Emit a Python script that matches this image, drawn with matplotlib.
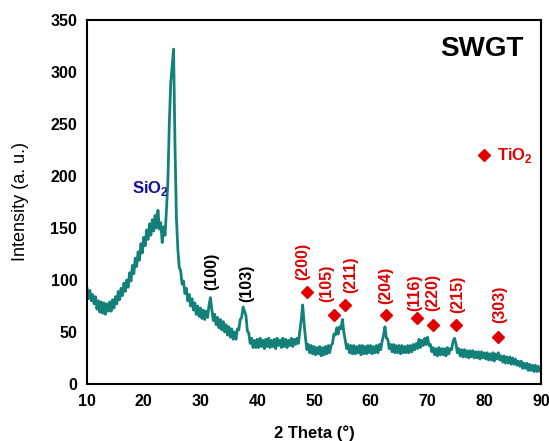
import numpy as np
import matplotlib
matplotlib.use("Agg")
import matplotlib.pyplot as plt

plt.rcParams["font.family"] = ["Liberation Sans", "DejaVu Sans"]
plt.rcParams["mathtext.fontset"] = "custom"
plt.rcParams["mathtext.rm"] = "Liberation Sans:bold"
plt.rcParams["mathtext.bf"] = "Liberation Sans:bold"

# XRD pattern, every 0.25 deg from 10 to 90
two_theta = np.arange(10, 90.01, 0.25)
intensity = [
    92, 82, 90, 80, 86, 77, 84, 72, 80, 69, 79, 68, 78, 67, 77, 70,
    79, 70, 81, 73, 84, 77, 89, 81, 92, 85, 97, 89, 100, 93, 107, 99,
    114, 106, 121, 113, 127, 119, 135, 126, 141, 133, 148, 139,
    154, 143, 158, 147, 162, 150, 167, 149, 155, 136, 151, 143,
    168, 195, 250, 290, 305, 322, 230, 160, 130, 112, 109, 96,
    99, 87, 92, 80, 86, 75, 82, 71, 78, 67, 75, 65, 73, 63, 71, 62,
    70, 64, 76, 83, 71, 61, 67, 57, 64, 54, 62, 52, 60, 50, 57, 47,
    55, 45, 53, 43, 50, 43, 53, 52, 62, 64, 74, 70, 66, 51, 49, 39,
    44, 35, 42, 35, 43, 35, 44, 36, 42, 34, 43, 36, 44, 35, 42, 36,
    43, 34, 44, 37, 42, 35, 44, 36, 43, 35, 42, 37, 44, 36, 43, 38,
    44, 39, 51, 62, 76, 58, 44, 33, 38, 30, 37, 29, 36, 28, 35, 29,
    36, 27, 35, 28, 36, 29, 37, 30, 37, 39, 48, 47, 54, 48, 55, 53,
    62, 50, 42, 34, 38, 30, 37, 29, 37, 29, 36, 30, 37, 28, 37, 29,
    36, 29, 37, 30, 37, 29, 36, 30, 37, 30, 38, 33, 41, 47, 55, 44,
    43, 34, 38, 31, 38, 30, 37, 30, 37, 29, 37, 30, 36, 30, 37, 30,
    37, 31, 38, 33, 39, 34, 43, 35, 42, 37, 44, 38, 45, 37, 38, 31,
    35, 28, 34, 27, 35, 28, 34, 28, 34, 27, 35, 29, 34, 33, 41, 44,
    39, 30, 34, 27, 33, 26, 33, 26, 32, 25, 32, 26, 32, 25, 31, 25,
    31, 24, 31, 25, 30, 24, 30, 23, 29, 23, 30, 22, 29, 24, 30, 23,
    27, 21, 27, 20, 26, 20, 26, 19, 25, 19, 24, 18, 22, 17, 22, 15,
    20, 15, 20, 13, 19, 13, 18, 12, 18, 12, 17, 12, 15,
]

# hkl labels, the first two are black, the rest red
hkl_text = ["(100)", "(103)", "(200)", "(105)", "(211)",
            "(204)", "(116)", "(220)", "(215)", "(303)"]
hkl_x = [32.0, 38.2, 48.1, 52.3, 56.5, 62.7, 67.8, 70.9, 75.3, 82.7]
hkl_y = [108, 97, 118, 97, 105, 95, 88, 88, 86, 77]
hkl_black = 2

# TiO2 diamonds
tio2_x = [48.7, 53.5, 55.5, 62.7, 68.2, 71.0, 75.0, 82.4]
tio2_y = [88, 66, 76, 66, 63, 57, 57, 45]

teal = "#14807a"
red = "#e00000"

fig = plt.figure(figsize=(5.49, 4.41), dpi=100)
ax = fig.add_axes([0.1585, 0.1293, 0.827, 0.8254])

ax.plot(two_theta, intensity, color=teal, linewidth=2.0)
ax.plot(tio2_x, tio2_y, linestyle="none", marker="D", markersize=6,
        color=red)

for i, t in enumerate(hkl_text):
    c = "black" if i < hkl_black else red
    ax.text(hkl_x[i], hkl_y[i], t, rotation=90, ha="center", va="center",
            fontsize=11.5, fontweight="bold", color=c)

ax.text(79.6, 322, "SWGT", ha="center", va="center", fontsize=20,
        fontweight="bold")
ax.text(21.1, 188, r"SiO$_2$", ha="center", va="center", fontsize=12,
        fontweight="bold", color="#10109a")
ax.plot([80.0], [220], linestyle="none", marker="D", markersize=6,
        color=red)
ax.text(82.2, 220, r"TiO$_2$", ha="left", va="center", fontsize=12,
        fontweight="bold", color=red)

ax.set_xlim(10, 90)
ax.set_ylim(0, 350)
ax.set_xticks(range(10, 91, 10))
ax.set_yticks(range(0, 351, 50))
ax.tick_params(length=0, labelsize=11.5, pad=7)
for lab in ax.get_xticklabels() + ax.get_yticklabels():
    lab.set_fontweight("bold")
for s in ax.spines.values():
    s.set_linewidth(1.5)

ax.set_xlabel("2 Theta (°)", fontsize=12, fontweight="bold")
ax.set_ylabel("Intensity (a. u.)", fontsize=13)
ax.xaxis.set_label_coords(0.5, -0.113)
ax.yaxis.set_label_coords(-0.128, 0.5)

fig.savefig("out.png", dpi=100)
